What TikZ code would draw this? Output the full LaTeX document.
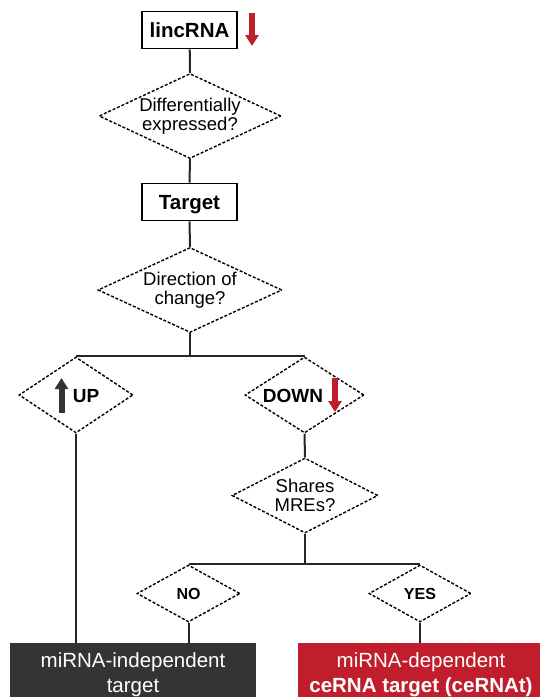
\documentclass[tikz,border=0pt]{standalone}
\usepackage{fontspec}
\setmainfont{Liberation Sans}
\usetikzlibrary{shapes, arrows.meta}
\definecolor{cered}{RGB}{192,30,45}
\definecolor{darkbox}{RGB}{52,52,52}

\begin{document}
\begin{tikzpicture}[x=1pt, y=-1pt,
box_style/.style={rectangle, draw=black, line width=1.6pt, minimum width=95pt, minimum height=37pt, inner sep=0pt, text depth=0pt, font=\fontsize{20.5}{22}\selectfont\bfseries},
decision_style/.style={diamond, draw=black, dash pattern=on 3pt off 1.8pt, line width=1.4pt, inner sep=0pt, align=center, font=\fontsize{18.5}{18.5}\selectfont},
answer_style/.style={inner sep=0pt, font=\fontsize{19}{20}\selectfont\bfseries},
edge_style/.style={line width=2pt, black!85},
result_style/.style={rectangle, minimum width=246pt, minimum height=64pt, inner sep=0pt, align=center, text=white, font=\fontsize{20.5}{25}\selectfont},
change_arrow/.style={line width=6pt, -{Triangle[length=11pt, width=13pt]}},
]

\useasboundingbox (0,0) rectangle (540,697);
\clip (0,0) rectangle (540,697);

% boxes and decisions
\node[box_style] (lincrna) at (189.5,30) {lincRNA};
\node[decision_style, minimum width=182pt, minimum height=85pt, aspect=2.14] (diffexp) at (190,116) {Differentially\\expressed?};
\node[box_style] (target) at (189.5,202) {Target};
\node[decision_style, minimum width=184pt, minimum height=85pt, aspect=2.16] (direction) at (190,290) {Direction of\\change?};

\node[decision_style, minimum width=114pt, minimum height=76pt, aspect=1.5] (up) at (76,395) {};
\node[decision_style, minimum width=119pt, minimum height=76pt, aspect=1.56] (down) at (304.5,395) {};
\node[answer_style] (uptext) at (86,396) {UP};
\node[answer_style] (downtext) at (293,396) {DOWN};

\node[decision_style, minimum width=146pt, minimum height=75pt, aspect=1.95] (shares) at (305,495.5) {Shares\\MREs?};
\node[decision_style, minimum width=103pt, minimum height=57pt, aspect=1.8, font=\fontsize{16}{18}\selectfont\bfseries] (no) at (188.5,593.5) {NO};
\node[decision_style, minimum width=102pt, minimum height=57pt, aspect=1.8, font=\fontsize{16}{18}\selectfont\bfseries] (yes) at (420,593.5) {YES};

\node[result_style, fill=darkbox] (indep) at (133,675) {miRNA-independent\\target};
\node[result_style, fill=cered] (dep) at (421,675) {miRNA-dependent\\\textbf{ceRNA target (ceRNAt)}};

% change arrows
\draw[change_arrow, cered] (252,13) -- (252,46);
\draw[change_arrow, darkbox] (61.5,413) -- (61.5,378);
\draw[change_arrow, cered] (335,378) -- (335,412);

% connectors
\draw[edge_style] (lincrna) -- (diffexp.north);
\draw[edge_style] (diffexp.south) -- (target.north);
\draw[edge_style] (target.south) -- (direction.north);
\draw[edge_style] (direction.south) -- (direction.south |- up.north);
\draw[edge_style] (up.north) -- (down.north);
\draw[edge_style] (up.south) -- (up.south |- indep.north);
\draw[edge_style] (down.south) -- (shares.north);
\draw[edge_style] (shares.south) -- (shares.south |- no.north);
\draw[edge_style] (no.north) -- (yes.north);
\draw[edge_style] (no.south) -- (no.south |- indep.north);
\draw[edge_style] (yes.south) -- (yes.south |- dep.north);

\end{tikzpicture}
\end{document}
